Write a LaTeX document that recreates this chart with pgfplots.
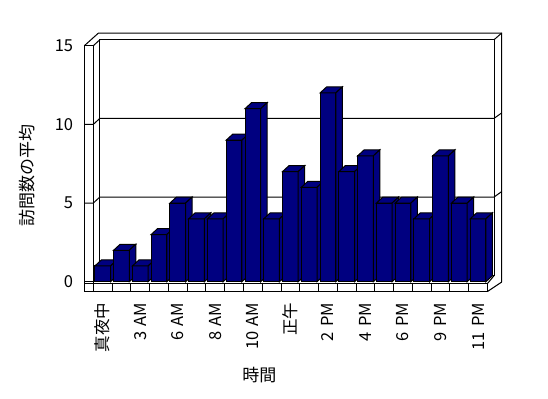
\documentclass[border=0pt]{standalone}
\usepackage{fontspec}
\setmainfont{Noto Sans CJK JP}
\usepackage{pgfplots}
\pgfplotsset{compat=1.18}
\usepackage{pgfplotstable}
\definecolor{barnavy}{HTML}{000080}
\pgfdeclareplotmark{none3d}{}

\pgfplotstableread{
h v
0 1
1 2
2 1
3 3
4 5
5 4
6 4
7 9
8 11
9 4
10 7
11 6
12 12
13 7
14 8
15 5
16 5
17 4
18 8
19 5
20 4
}\visits

\newcommand{\lsp}{\hspace{0.32em}}
\begin{document}
\begin{tikzpicture}[x=1bp,y=-1bp,font=\fontsize{16.5bp}{19bp}\selectfont]
\fill[white] (0,0) rectangle (548,398);
\path[use as bounding box] (0,0) rectangle (548,398);
\begin{scope}[line width=1bp,black,line join=miter]
% back wall inner face
\draw (99.8,275.7) -- (99.8,39.75) -- (494,39.75) -- (494,275.7);
\draw (99.8,275.7) -- (494,275.7);
% outer top and right edges
\draw (84.3,45.75) -- (98.5,33) -- (501.7,33) -- (501.7,282);
\draw (494,39.75) -- (501.7,33);
% gridlines
\foreach \gy in {124.4,203.05} {
  \draw (84.3,\gy) -- (93.3,\gy) -- (99.8,\gy-6) -- (494,\gy-6) -- (501.7,\gy-11.5);
}
% left wall front face
\draw (84.3,45.75) rectangle (93.3,291.5);
\draw (93.3,45.75) -- (99.8,39.75);
\draw (84.3,281.7) -- (93.3,281.7);
% floor front face
\draw (84.3,283.5) rectangle (487.5,291.5);
\foreach \k in {1,...,20} {
  \draw (93.3+18.77*\k,283.5) -- (93.3+18.77*\k,291.5);
}
\draw (487.5,283.5) -- (494,275.7);
\draw (487.5,291.5) -- (501.7,282);
\end{scope}
\begin{axis}[
  at={(93.3bp,-281.7bp)}, anchor=south west,
  x=18.77bp, y=15.73bp,
  xmin=-0.5, xmax=20.5, ymin=0, ymax=15,
  axis line style={draw=none},
  major tick length=0pt,
  xtick={0,...,20},
  xticklabels={真夜中,,3\lsp AM,,6\lsp AM,,8\lsp AM,,10\lsp AM,,正午,,2\lsp PM,,4\lsp PM,,6\lsp PM,,9\lsp PM,,11\lsp PM},
  ytick={0,5,10,15},
  /pgf/number format/assume math mode=true,
  yticklabel style={anchor=east,inner sep=0pt,xshift=-20bp},
  xticklabel style={yshift=-21bp,rotate=90,anchor=east,inner sep=0pt},
  xlabel={時間}, ylabel={訪問数の平均},
  label style={font=\fontsize{17bp}{20bp}\selectfont},
  xlabel style={at={(axis description cs:0.421,-0.397)},anchor=center},
  ylabel style={at={(axis description cs:-0.167,0.452)},anchor=center},
  clip=false,
]
\addplot[scatter, only marks, mark=none3d,
  visualization depends on={\thisrow{v} \as \hv},
  scatter/@pre marker code/.code={%
    \filldraw[fill=barnavy,draw=black,line width=1bp,line join=miter]
      (-7.85bp,0bp) rectangle (7.85bp,{-\hv*15.73bp});
    \filldraw[fill=barnavy,draw=black,line width=1bp,line join=miter]
      (-7.85bp,0bp) -- (-1.35bp,6bp) -- (14.35bp,6bp) -- (7.85bp,0bp) -- cycle;
    \filldraw[fill=barnavy,draw=black,line width=1bp,line join=miter]
      (7.85bp,0bp) -- (14.35bp,6bp) -- (14.35bp,{6bp-\hv*15.73bp}) -- (7.85bp,{-\hv*15.73bp}) -- cycle;
  },
  scatter/@post marker code/.code={},
] table[x=h,y=v]{\visits};
\end{axis}
\end{tikzpicture}
\end{document}
